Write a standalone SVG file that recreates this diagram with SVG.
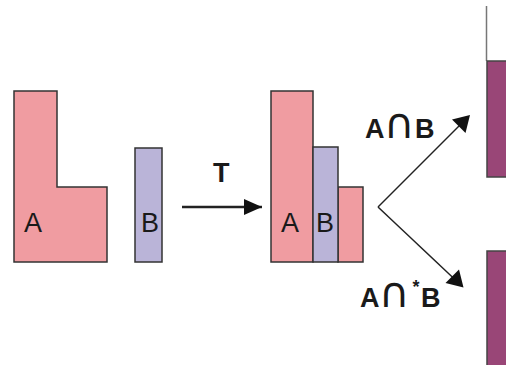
<svg xmlns="http://www.w3.org/2000/svg" width="506" height="365" viewBox="0 0 506 365">
  <style>
    .a { fill: #f09ca1; stroke: #333; stroke-width: 1.5; }
    .b { fill: #bab4d8; stroke: #333; stroke-width: 1.5; }
    .r { fill: #994677; stroke: #444; stroke-width: 1.5; }
    .lbl { font-family: "Liberation Sans", Arial, sans-serif; font-size: 27px; fill: #1a1a1a; }
    .op { font-family: "Liberation Sans", Arial, sans-serif; font-size: 27px; font-weight: bold; fill: #1a1a1a; }
    .cap { font-family: "DejaVu Sans", sans-serif; font-size: 42px; fill: #1a1a1a; text-anchor: middle; }
    .star { font-family: "Liberation Sans", Arial, sans-serif; font-size: 18px; font-weight: bold; fill: #1a1a1a; text-anchor: middle; }
    .ln { stroke: #222; fill: none; }
  </style>

  <!-- set A: L-shaped region -->
  <g id="setA">
    <polygon class="a" points="14,91 57,91 57,187 107,187 107,262 14,262"/>
    <text class="lbl" x="24" y="232">A</text>
  </g>

  <!-- set B: tall bar -->
  <g id="setB">
    <rect class="b" x="135" y="148" width="27" height="114"/>
    <text class="lbl" x="141" y="232">B</text>
  </g>

  <!-- A and B after the transform T -->
  <g id="transformed">
    <rect class="a" x="271" y="91" width="42" height="171"/>
    <rect class="a" x="338" y="187" width="25" height="75"/>
    <rect class="b" x="313" y="147" width="25" height="115"/>
    <text class="lbl" x="281" y="232">A</text>
    <text class="lbl" x="316" y="232">B</text>
  </g>

  <!-- results -->
  <g id="intersect">
    <line x1="486.5" y1="6" x2="486.5" y2="61" stroke="#777" stroke-width="1.5"/>
    <rect class="r" x="487" y="61" width="25" height="116"/>
  </g>
  <g id="intersectStar">
    <rect class="r" x="487" y="251" width="25" height="120"/>
  </g>

  <!-- connectors -->
  <g id="connectors">
    <line class="ln" x1="182" y1="207" x2="262" y2="207" stroke-width="2.5"/>
    <path d="M244,199 L262,207 L244,215 Z" fill="#111"/>
    <line class="ln" x1="463" y1="122" x2="378" y2="207" stroke-width="1.5"/>
    <path d="M470,115 L465.5,133 L452,119.5 Z" fill="#111"/>
    <line class="ln" x1="378" y1="207" x2="456" y2="280.5" stroke-width="1.5"/>
    <path d="M463.5,287.5 L445.5,283 L459,269.5 Z" fill="#111"/>
    <text class="op" x="213" y="182">T</text>

    <!-- A ∩ B -->
    <text class="op" x="365" y="138">A</text>
    <text class="cap" x="399" y="138">∩</text>
    <text class="op" x="415" y="138">B</text>

    <!-- A ∩* B -->
    <text class="op" x="360" y="307">A</text>
    <text class="cap" x="394" y="307">∩</text>
    <text class="star" x="416" y="293">*</text>
    <text class="op" x="421" y="307">B</text>
  </g>
</svg>
